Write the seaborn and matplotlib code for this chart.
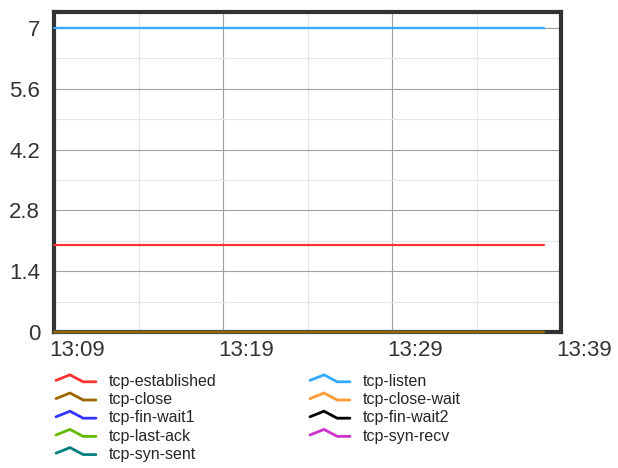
import numpy as np
import pandas as pd
import matplotlib
matplotlib.use('Agg')
from matplotlib import pyplot as plt
import matplotlib.dates as mdates
from matplotlib.lines import Line2D
from matplotlib.legend_handler import HandlerBase
from matplotlib.ticker import MultipleLocator
from matplotlib.transforms import ScaledTranslation
import seaborn as sns

# one sample per minute, 13:09 .. 13:38
times = pd.date_range('2024-01-01 13:09', '2024-01-01 13:38', freq='1min')
n = len(times)

states = ['tcp-established', 'tcp-close', 'tcp-fin-wait1', 'tcp-last-ack', 'tcp-syn-sent',
          'tcp-listen', 'tcp-close-wait', 'tcp-fin-wait2', 'tcp-syn-recv']
values = {
    'tcp-established': [2] * n,
    'tcp-listen': [7] * n,
    'tcp-close': [0] * n,
    'tcp-close-wait': [0] * n,
    'tcp-fin-wait1': [0] * n,
    'tcp-fin-wait2': [0] * n,
    'tcp-last-ack': [0] * n,
    'tcp-syn-recv': [0] * n,
    'tcp-syn-sent': [0] * n,
}
colors = {
    'tcp-established': '#ff3333',
    'tcp-listen': '#33aaff',
    'tcp-close': '#996600',
    'tcp-close-wait': '#ff9933',
    'tcp-fin-wait1': '#3333ff',
    'tcp-fin-wait2': '#000000',
    'tcp-last-ack': '#66bb00',
    'tcp-syn-recv': '#cc33cc',
    'tcp-syn-sent': '#008080',
}

df = pd.concat([pd.DataFrame({'time': times, 'value': values[s], 'state': s}) for s in states])

sns.set_style('white')
plt.rcParams['font.family'] = ['Liberation Sans', 'DejaVu Sans']

fig = plt.figure(figsize=(6.18, 4.68), dpi=100)
ax = fig.add_axes([54 / 618, 1 - 332 / 468, (561 - 54) / 618, (332 - 12) / 468])

# draw order: brown close line ends up on top at zero
draw_order = ['tcp-listen', 'tcp-established', 'tcp-syn-recv', 'tcp-fin-wait2', 'tcp-close-wait',
              'tcp-syn-sent', 'tcp-last-ack', 'tcp-fin-wait1', 'tcp-close']
sns.lineplot(data=df, x='time', y='value', hue='state', hue_order=draw_order,
             palette=colors, linewidth=1.6, legend=False, ax=ax)
for ln in ax.lines:
    ln.set_clip_on(False)
    ln.set_zorder(3)

t0 = mdates.date2num(pd.Timestamp('2024-01-01 13:09'))
t1 = mdates.date2num(pd.Timestamp('2024-01-01 13:39'))
ax.set_xlim(t0, t1)
ax.set_ylim(0, 7.37)

ax.xaxis.set_major_locator(mdates.MinuteLocator(byminute=[9, 19, 29, 39]))
ax.xaxis.set_minor_locator(mdates.MinuteLocator(byminute=[4, 14, 24, 34, 44]))
ax.xaxis.set_major_formatter(mdates.DateFormatter('%H:%M'))
ax.yaxis.set_major_locator(MultipleLocator(1.4))
ax.yaxis.set_minor_locator(MultipleLocator(0.7))
ax.yaxis.set_major_formatter(lambda v, p: f'{v:g}')

ax.grid(which='major', color='#a0a0a0', linewidth=0.8)
ax.grid(which='minor', color='#e6e6e6', linewidth=0.8)
ax.set_axisbelow(True)

ax.tick_params(which='both', length=0, labelsize=16, labelcolor='#333333')
ax.tick_params(axis='y', pad=10)
ax.tick_params(axis='x', pad=6)
for lab in ax.get_xticklabels():
    lab.set_transform(lab.get_transform() + ScaledTranslation(0.23, 0, fig.dpi_scale_trans))

for sp in ax.spines.values():
    sp.set_visible(True)
    sp.set_color('#333333')
    sp.set_linewidth(3)

ax.set_xlabel('')
ax.set_ylabel('')


class Chevron(HandlerBase):
    def create_artists(self, legend, orig_handle, xdescent, ydescent, width, height, fontsize, trans):
        y0 = height / 2 - ydescent
        xs = np.array([0, 0.35, 0.68, 1.0]) * width - xdescent
        ys = np.array([y0, y0 + height * 0.5, y0 - 1, y0 - 1])
        ln = Line2D(xs, ys, color=orig_handle.get_color(), linewidth=2,
                    solid_joinstyle='miter', transform=trans)
        return [ln]


def add_column(labels, x):
    handles = [Line2D([], [], color=colors[s]) for s in labels]
    fig.legend(handles, labels, loc='upper left', bbox_to_anchor=(x, 1 - 374 / 468),
               frameon=False, fontsize=11.5, borderpad=0, borderaxespad=0,
               handlelength=2.5, handletextpad=0.8, labelspacing=0.2,
               handler_map={Line2D: Chevron()})


add_column(states[:5], 56 / 618)
add_column(states[5:], 310 / 618)

fig.savefig('out.png', dpi=100)
